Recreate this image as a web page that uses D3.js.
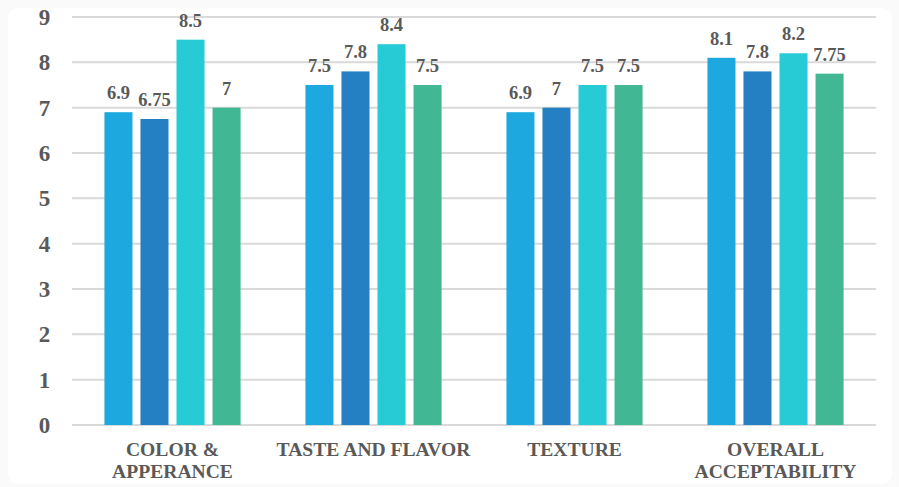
<!DOCTYPE html>
<html><head><meta charset="utf-8"><script src="https://cdn.jsdelivr.net/npm/d3@7"></script></head>
<body style="margin:0">
<svg id="chart" width="899" height="487"></svg>
<script>
const categories = [["COLOR &", "APPERANCE"], ["TASTE AND FLAVOR"], ["TEXTURE"], ["OVERALL", "ACCEPTABILITY"]];
const seriesNames = ["S1", "S2", "S3", "S4"];
const series1 = [6.9, 7.5, 6.9, 8.1];
const series2 = [6.75, 7.8, 7, 7.8];
const series3 = [8.5, 8.4, 7.5, 8.2];
const series4 = [7, 7.5, 7.5, 7.75];
const seriesColors = ["#1DA8E0", "#2580C3", "#26CBD6", "#41B794"];
const yTicks = [0, 1, 2, 3, 4, 5, 6, 7, 8, 9];

const allSeries = [series1, series2, series3, series4];
const svg = d3.select("#chart");
const FONT = '"Liberation Serif"';
const TXT = "#595959";

// faint outer frame
svg.append("rect").attr("x", 0).attr("y", 0).attr("width", 899).attr("height", 487).attr("fill", "#fafafa");
svg.append("rect").attr("x", 8).attr("y", 8).attr("width", 884).attr("height", 476).attr("rx", 10).attr("fill", "#fff");

const mLeft = 72, mRight = 876, mTop = 17, mBottom = 425;
const x0 = d3.scaleBand().domain(d3.range(categories.length)).range([mLeft, mRight]).padding(0);
const x1 = d3.scaleBand().domain(seriesNames).range([0, x0.bandwidth()]).paddingInner(0.222).paddingOuter(0.9);
const y = d3.scaleLinear().domain([0, 9]).range([mBottom, mTop]);

// gridlines
svg.append("g").selectAll("line").data(yTicks).join("line")
  .attr("x1", mLeft).attr("x2", mRight)
  .attr("y1", d => y(d)).attr("y2", d => y(d))
  .attr("stroke", "#d9d9d9").attr("stroke-width", 2);

// y labels
const yAxis = d3.axisLeft(y).tickValues(yTicks).tickSize(0).tickPadding(0).tickFormat(d3.format("d"));
const yg = svg.append("g").attr("transform", "translate(44.5,0)").call(yAxis);
yg.select(".domain").remove();
yg.attr("font-family", null).attr("font-size", null);
yg.selectAll("text")
  .attr("text-anchor", "middle")
  .style("font-family", FONT).style("font-weight", "bold").style("font-size", "23px")
  .attr("fill", TXT)
  .attr("dy", "0.33em");

// bars
const groups = svg.append("g").selectAll("g").data(categories).join("g")
  .attr("transform", (d, i) => `translate(${x0(i)},0)`);

groups.each(function(c, ci) {
  const g = d3.select(this);
  const vals = allSeries.map((s, si) => ({ name: seriesNames[si], v: s[ci], color: seriesColors[si] }));
  g.selectAll("rect").data(vals).join("rect")
    .attr("x", d => x1(d.name)).attr("width", x1.bandwidth())
    .attr("y", d => y(d.v)).attr("height", d => y(0) - y(d.v))
    .attr("fill", d => d.color);
  g.selectAll("text").data(vals).join("text")
    .attr("x", d => x1(d.name) + x1.bandwidth() / 2)
    .attr("y", d => y(d.v) - 13)
    .attr("text-anchor", "middle")
    .style("font-family", FONT).style("font-weight", "bold").style("font-size", "18.5px")
    .attr("fill", TXT)
    .text(d => d.v);
});

// category labels
const xg = svg.append("g");
categories.forEach((lines, i) => {
  const cx = x0(i) + x0.bandwidth() / 2;
  lines.forEach((ln, k) => {
    xg.append("text")
      .attr("x", cx)
      .attr("y", 456 + k * 22)
      .attr("text-anchor", "middle")
      .style("font-family", FONT).style("font-weight", "bold").style("font-size", "19.6px")
      .attr("fill", TXT)
      .text(ln);
  });
});
</script>
</body></html>
